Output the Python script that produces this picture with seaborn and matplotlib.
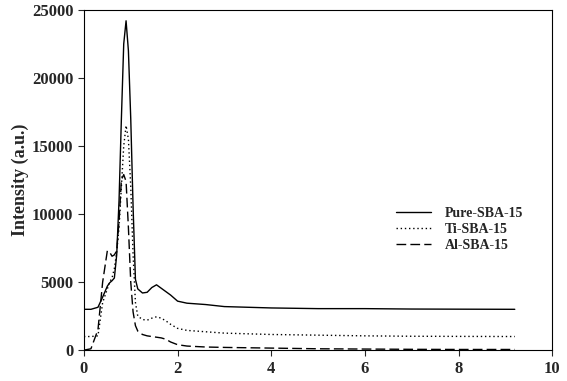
import pandas as pd
import matplotlib
matplotlib.use('Agg')
import matplotlib.pyplot as plt
import seaborn as sns

# 2-theta positions (deg)
x = [0.0, 0.15, 0.3, 0.4, 0.5, 0.55, 0.6, 0.65, 0.7, 0.75, 0.8, 0.85, 0.9, 0.95,
     1.0, 1.05, 1.1, 1.15, 1.25, 1.35, 1.45, 1.55, 1.65, 1.75, 1.85, 2.0, 2.2,
     2.6, 3.0, 4.0, 5.0, 6.0, 7.0, 8.0, 9.2]

pure = [3000, 3000, 3150, 3900, 4700, 4950, 5100, 5300, 7000, 11000, 17000, 22500, 24200, 22000,
        17000, 10500, 5200, 4500, 4200, 4250, 4600, 4800, 4550, 4300, 4050, 3600, 3450,
        3350, 3200, 3100, 3050, 3050, 3020, 3010, 3000]

ti = [1000, 1000, 1050, 3500, 4500, 5000, 5300, 6000, 7200, 9000, 12000, 15000, 16500, 15500,
      12000, 7000, 3500, 2500, 2250, 2200, 2350, 2450, 2350, 2150, 1900, 1600, 1450,
      1350, 1250, 1150, 1100, 1050, 1020, 1010, 1000]

al = [0, 100, 1500, 5000, 7300, 7200, 6900, 7000, 7300, 9500, 12500, 12900, 12400, 9000,
      5000, 2800, 1800, 1400, 1150, 1050, 1000, 950, 900, 800, 600, 400, 300,
      230, 200, 150, 100, 80, 60, 50, 50]

sns.set_style('ticks')
plt.rcParams['font.family'] = ['Liberation Serif', 'DejaVu Serif']
plt.rcParams['font.weight'] = 'bold'

fig = plt.figure(figsize=(5.67, 3.81), dpi=100)
ax = fig.add_axes([0.148, 0.081, 0.826, 0.893])

sns.lineplot(x=x, y=pure, ax=ax, color='black', lw=1.0, label='Pure-SBA-15')
sns.lineplot(x=x, y=ti, ax=ax, color='black', lw=1.0, linestyle=(0, (1, 2)), label='Ti-SBA-15')
sns.lineplot(x=x, y=al, ax=ax, color='black', lw=1.0, linestyle=(0, (7, 3)), label='Al-SBA-15')

ax.set_xlim(0, 10)
ax.set_ylim(0, 25000)
ax.set_xticks([0, 2, 4, 6, 8, 10])
ax.set_yticks([0, 5000, 10000, 15000, 20000, 25000])
ax.set_ylabel('Intensity (a.u.)', fontsize=13, fontweight='bold', labelpad=2)
ax.tick_params(labelsize=12, direction='out', length=4, width=0.8)
for lab in ax.get_xticklabels() + ax.get_yticklabels():
    lab.set_fontweight('bold')
for s in ax.spines.values():
    s.set_linewidth(0.8)
    s.set_color('black')

leg = ax.legend(loc='center left', bbox_to_anchor=(0.64, 0.355), frameon=False,
                prop={'weight': 'bold', 'size': 10}, handlelength=2.5,
                labelspacing=0.2, handletextpad=1.0)

fig.savefig('out.png', dpi=100)
